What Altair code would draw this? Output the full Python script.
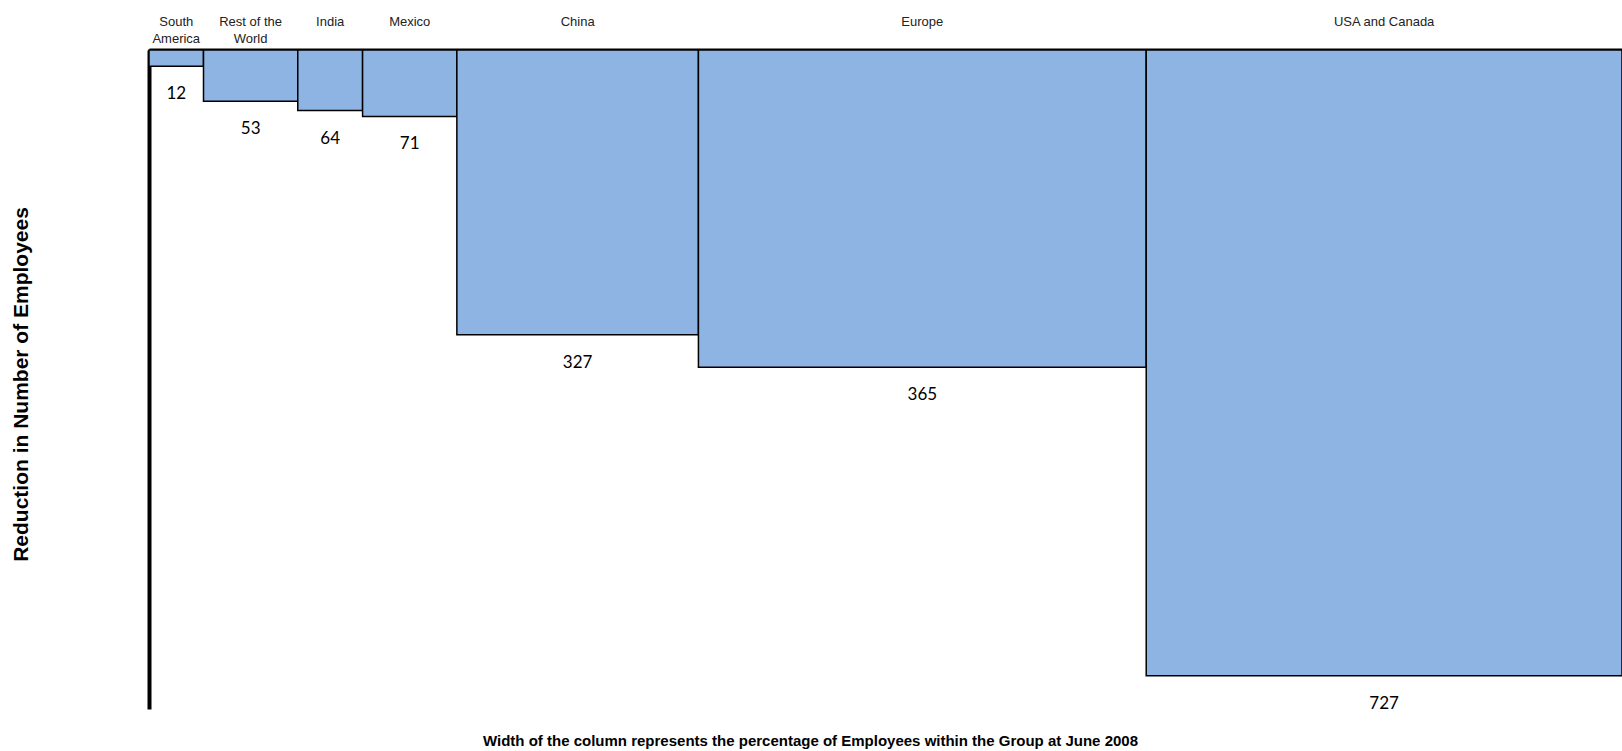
import altair as alt
import pandas as pd

regions = ["South America", "Rest of the World", "India", "Mexico", "China", "Europe", "USA and Canada"]
region_labels = ["South\nAmerica", "Rest of the\nWorld", "India", "Mexico", "China", "Europe", "USA and Canada"]
pct_employees = [3.7, 6.4, 4.4, 6.4, 16.4, 30.4, 32.3]
reduction = [12, 53, 64, 71, 327, 365, 727]

starts = []
acc = 0.0
for p in pct_employees:
    starts.append(acc)
    acc += p
ends = [s + p for s, p in zip(starts, pct_employees)]

df = pd.DataFrame({
    "region": regions,
    "label": region_labels,
    "pct": pct_employees,
    "start": starts,
    "end": ends,
    "mid": [(s + e) / 2 for s, e in zip(starts, ends)],
    "reduction": reduction,
})

W, H = 1473, 659

xscale = alt.Scale(domain=[0, 100], nice=False, zero=False)
yscale = alt.Scale(domain=[-7, 766], nice=False, zero=False, reverse=True)

xaxis = alt.Axis(orient="top", title=None, labels=False, ticks=False, grid=False,
                 domain=True, domainColor="black", domainWidth=4)
yaxis = alt.Axis(orient="left", title="Reduction in Number of Employees", labels=False,
                 ticks=False, grid=False, domain=True, domainColor="black", domainWidth=4,
                 titleX=-128, titleY=334, titleAngle=270, titleAlign="center",
                 titleBaseline="middle", titleFont="Liberation Sans", titleFontSize=21,
                 titleFontWeight="bold", titleColor="black")

base = alt.Chart(df)

bars = base.mark_rect(fill="#8EB4E3", stroke="black", strokeWidth=1.5).encode(
    x=alt.X("start:Q", scale=xscale, axis=xaxis),
    x2="end:Q",
    y=alt.Y("reduction:Q", scale=yscale, axis=yaxis),
    y2=alt.value(0),
)

values = base.mark_text(font="Lato", fontSize=17, color="black", baseline="middle",
                        align="center", dy=28).encode(
    x=alt.X("mid:Q", scale=xscale),
    y=alt.Y("reduction:Q", scale=yscale),
    text="reduction:Q",
)

cats = base.mark_text(font="Liberation Sans", fontSize=13, color="#222222",
                      baseline="middle", align="center", lineBreak="\n",
                      lineHeight=17).encode(
    x=alt.X("mid:Q", scale=xscale),
    y=alt.value(-28),
    text="label:N",
)

chart = alt.layer(bars, values, cats).properties(
    width=W,
    height=H,
    autosize=alt.AutoSizeParams(type="none"),
    padding={"left": 149, "top": 50, "right": 0, "bottom": 42},
    background="white",
    title=alt.TitleParams(
        text="Width of the column represents the percentage of Employees within the Group at June 2008",
        orient="bottom", anchor="middle", dx=-75, offset=29,
        font="Liberation Sans", fontSize=15, fontWeight="bold", color="black",
        baseline="middle",
    ),
).configure_view(stroke=None)

chart.save("out.html", embed_options={"renderer": "svg", "actions": False})
